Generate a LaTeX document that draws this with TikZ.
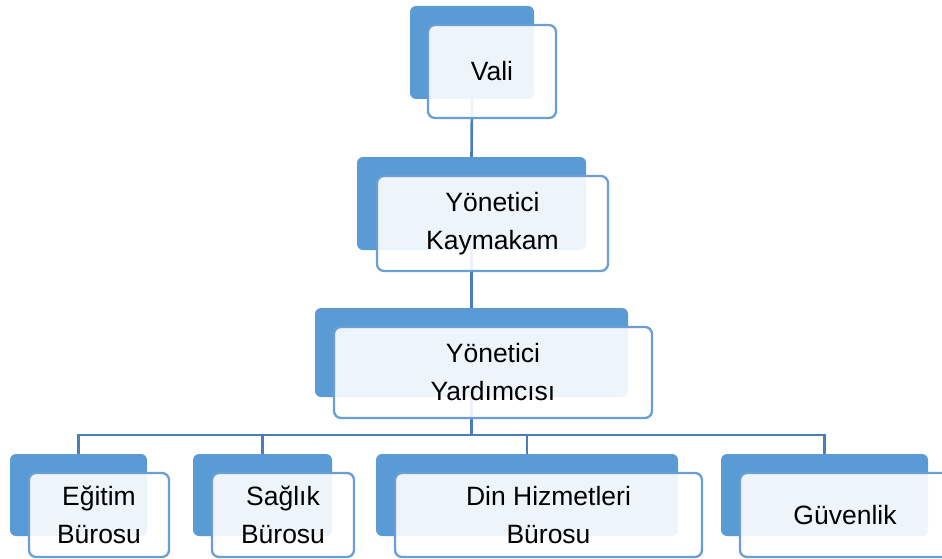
\documentclass[tikz,border=0pt]{standalone}
\usepackage{fontspec}
\setmainfont{Liberation Sans}
\definecolor{backblue}{HTML}{5B9BD5}
\definecolor{edgeblue}{HTML}{6A9FD6}
\definecolor{lineblue}{HTML}{4A7EBB}
\tikzset{
  backbox/.style={fill=backblue, rounded corners=6pt, inner sep=0pt, outer sep=0pt},
  frontbox/.style={draw=edgeblue, line width=2.3pt, fill=white, fill opacity=0.9, text opacity=1,
    rounded corners=7pt, inner sep=0pt, outer sep=0pt, align=center,
    font=\fontsize{26.5}{38}\selectfont},
  link/.style={draw=lineblue, line width=2.6pt}
}
\begin{document}
\begin{tikzpicture}[x=1pt,y=-1pt]
\clip(0,0) rectangle (942,559);

% back boxes
\node[backbox, minimum width=124pt, minimum height=93pt](valib) at (472,52.5){};
\node[backbox, minimum width=229pt, minimum height=93pt](kaymb) at (471.5,203.5){};
\node[backbox, minimum width=313pt, minimum height=89pt](yardb) at (471.5,352.5){};
\node[backbox, minimum width=137pt, minimum height=82pt](egitb) at (78.5,495){};
\node[backbox, minimum width=139pt, minimum height=82pt](saglb) at (262.5,495){};
\node[backbox, minimum width=302pt, minimum height=82pt](dinb) at (527,495){};
\node[backbox, minimum width=207pt, minimum height=82pt](guvb) at (824.5,495){};

% connectors
\draw[link](valib.south)--(kaymb.north);
\draw[link](kaymb.south)--(yardb.north);
\draw[link](yardb.south)--++(0,38)-|(egitb.north);
\draw[link](yardb.south)--++(0,38)-|(saglb.north);
\draw[link](yardb.south)--++(0,38)-|(dinb.north);
\draw[link](yardb.south)--++(0,38)-|(guvb.north);

% front boxes
\node[frontbox, minimum width=128pt, minimum height=93pt](vali) at (492,71.5){Vali};
\node[frontbox, minimum width=231pt, minimum height=95pt](kaym) at (492.5,223.5){Yönetici\\Kaymakam};
\node[frontbox, minimum width=318pt, minimum height=91pt](yard) at (493,372.5){Yönetici\\Yardımcısı};
\node[frontbox, minimum width=140pt, minimum height=84pt](egit) at (99,515){Eğitim\\Bürosu};
\node[frontbox, minimum width=142pt, minimum height=84pt](sagl) at (283,515){Sağlık\\Bürosu};
\node[frontbox, minimum width=307pt, minimum height=84pt](din) at (548.5,515){Din Hizmetleri\\Bürosu};
\node[frontbox, minimum width=210pt, minimum height=84pt](guv) at (845,515){Güvenlik};

\end{tikzpicture}
\end{document}
